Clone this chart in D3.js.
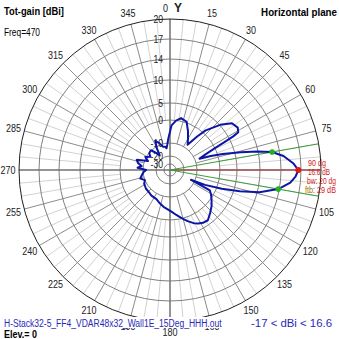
<!DOCTYPE html>
<html>
<head>
<meta charset="utf-8">
<script src="https://cdn.jsdelivr.net/npm/d3@7"></script>
<style>
  html, body { margin: 0; padding: 0; background: #fff; }
  svg { display: block; }
  text { font-family: "Liberation Sans", Arial, sans-serif; }
</style>
</head>
<body>
<svg id="chart" width="339" height="339"></svg>
<script>
// Horizontal-plane total gain (dBi) versus azimuth (degrees, clockwise from Y)
const azimuths = [2, 7, 12, 19, 25, 30, 35, 39, 42, 48, 53, 58, 61, 62, 63, 64, 66, 69,
  71, 73, 76, 78, 80, 83, 87, 90, 93, 96, 100, 104, 107, 110, 113, 115, 116, 117,
  121, 126, 131, 137, 143, 148, 152, 156, 161, 166, 172, 178, 184, 190, 197, 205,
  216, 223, 232, 242, 248, 254, 259, 265, 270, 274, 278, 282, 287, 292, 298, 304,
  309, 316, 320, 325, 329, 333, 338, 343, 348, 351, 354, 357];
const gains = [-2.3, -0.1, 0.9, 0.3, -3.2, -6.1, -8.4, -3.0, 1.0, 5.1, 7.3, 7.8, 7.4, 6.0, 3.0, 0.0, -4.3, -8.0,
  -3.0, 1.5, 6.3, 9.8, 12.6, 14.5, 15.9, 16.6, 16.2, 15.5, 13.8, 10.4, 6.3, 1.5, -5.2, -13.0, -7.8, -2.3,
  -0.9, 0.4, 1.5, 2.6, 3.8, 3.6, 3.1, 2.4, 1.2, -0.1, -2.0, -3.6, -4.7, -5.5, -6.6, -7.8,
  -8.0, -8.4, -8.5, -9.0, -10.0, -8.3, -9.2, -10.2, -12.4, -7.6, -9.3, -7.6, -6.6, -12.5, -9.6, -12.6,
  -10.2, -9.8, -13.2, -17.0, -10.8, -7.6, -9.0, -12.0, -12.5, -13.8, -11.0, -8.0];

// Gain rings (dBi) and their labels
const ringLevels = [20, 17, 14, 10, 5, 0, -10, -20, -30];
const ringLabels = ["20", "17", "14", "10", "5", "0", "-10", "-20", "-30"];

// Azimuth labels every 15 degrees
const azimuthTicks = [15, 30, 45, 60, 75, 105, 120, 135, 150, 165, 180, 195, 210, 225, 240, 255, 270, 285, 300, 315, 330, 345];

// Main lobe summary
const peakAzimuth = 90;
const peakGain = 16.6;
const beamwidth = 20;
const frontToBack = 29;
const minGain = -17;
const frequency = 470;
const elevation = 0;
const fileName = "H-Stack32-5_FF4_VDAR48x32_Wall1E_15Deg_HHH.out";

const svg = d3.select("#chart");
const cx = 170, cy = 170, R = 151;

// Compressed (log-like) radial gain scale
const r = d3.scaleLinear()
  .domain([-30, -20, -10, 0, 5, 10, 14, 17, 20])
  .range([6, 14, 27, 50, 67, 90, 111, 131, R])
  .clamp(true);

// Squeeze text horizontally (narrow UI look) by scaling about its anchor point
function squeeze(sel, k) {
  sel.each(function () {
    const t = d3.select(this);
    const x = +t.attr("x") || 0, y = +t.attr("y") || 0;
    t.attr("x", 0).attr("y", 0).attr("transform", `translate(${x},${y}) scale(${k},1)`);
  });
  return sel;
}
function fitWidth(sel, w) {
  const natural = sel.node().getComputedTextLength();
  return squeeze(sel, w / natural);
}

const g = svg.append("g").attr("transform", `translate(${cx},${cy})`);
const rad = d => d * Math.PI / 180;
const px = (az, rr) => rr * Math.sin(rad(az));
const py = (az, rr) => -rr * Math.cos(rad(az));

// Fine 5-degree spokes
const fine = d3.range(0, 360, 5).filter(a => a % 15 !== 0);
g.selectAll("line.fine").data(fine).join("line")
  .attr("x1", a => px(a, r(0))).attr("y1", a => py(a, r(0)))
  .attr("x2", a => px(a, R)).attr("y2", a => py(a, R))
  .attr("stroke", "#d2d2d2").attr("stroke-width", 1);

// 15-degree spokes
const coarse = d3.range(0, 360, 15).filter(a => a % 90 !== 0);
g.selectAll("line.coarse").data(coarse).join("line")
  .attr("x1", a => px(a, r(-10))).attr("y1", a => py(a, r(-10)))
  .attr("x2", a => px(a, R)).attr("y2", a => py(a, R))
  .attr("stroke", "#8c8c8c").attr("stroke-width", 1);

// Gain rings
g.selectAll("circle.ring").data(ringLevels.slice(1)).join("circle")
  .attr("r", d => r(d)).attr("fill", "none")
  .attr("stroke", "#808080").attr("stroke-width", 1);

// Main axes
g.append("line").attr("x1", 0).attr("y1", -R).attr("x2", 0).attr("y2", R)
  .attr("stroke", "#707070").attr("stroke-width", 1.5);
g.append("line").attr("x1", -R).attr("y1", 0).attr("x2", R).attr("y2", 0)
  .attr("stroke", "#707070").attr("stroke-width", 1.5);

// Outer ring
g.append("circle").attr("r", r(ringLevels[0])).attr("fill", "none")
  .attr("stroke", "#202020").attr("stroke-width", 1);

// Ring labels along the upper vertical axis
squeeze(g.selectAll("text.ring").data(ringLevels).join("text")
  .attr("x", -7).attr("y", d => -r(d))
  .attr("text-anchor", "end").attr("dominant-baseline", "central")
  .attr("font-size", 10.5).attr("fill", "#222")
  .text((d, i) => ringLabels[i]), 0.82);

// Azimuth labels
const labelR = 162;
squeeze(g.selectAll("text.az").data(azimuthTicks).join("text")
  .attr("x", a => px(a, labelR)).attr("y", a => py(a, labelR))
  .attr("text-anchor", "middle").attr("dominant-baseline", "central")
  .attr("font-size", 11).attr("fill", "#222")
  .text(a => a), 0.82);
squeeze(g.append("text").attr("x", -2).attr("y", -labelR)
  .attr("text-anchor", "end").attr("dominant-baseline", "central")
  .attr("font-size", 11).attr("fill", "#222").text("0"), 0.82);
g.append("text").attr("x", 4).attr("y", -labelR)
  .attr("text-anchor", "start").attr("dominant-baseline", "central")
  .attr("font-size", 12).attr("font-weight", "bold").attr("fill", "#222").text("Y");

// Beam direction and -3 dB directions
g.append("line").attr("x1", 0).attr("y1", 0)
  .attr("x2", px(peakAzimuth, R)).attr("y2", py(peakAzimuth, R))
  .attr("stroke", "#b84848").attr("stroke-width", 1.2);
[peakAzimuth - beamwidth / 2, peakAzimuth + beamwidth / 2].forEach(a => {
  g.append("line").attr("x1", 0).attr("y1", 0)
    .attr("x2", px(a, R)).attr("y2", py(a, R))
    .attr("stroke", "#3c9c3c").attr("stroke-width", 1);
});

// Pattern
const pts = azimuths.map((a, i) => [a, gains[i]]);
const pattern = d3.lineRadial()
  .angle(d => rad(d[0]))
  .radius(d => r(d[1]))
  .curve(d3.curveLinearClosed);
g.append("path").attr("d", pattern(pts))
  .attr("fill", "none").attr("stroke", "#0c16a4").attr("stroke-width", 2)
  .attr("stroke-linejoin", "round");

// Gain at an arbitrary azimuth, interpolated from the samples
function gainAt(az) {
  const i = d3.bisectLeft(azimuths, az);
  if (azimuths[i] === az) return gains[i];
  const a0 = azimuths[i - 1], a1 = azimuths[i];
  const t = (az - a0) / (a1 - a0);
  return gains[i - 1] + t * (gains[i] - gains[i - 1]);
}

// Markers: half-power points and peak
[peakAzimuth - beamwidth / 2, peakAzimuth + beamwidth / 2].forEach(a => {
  const rr = r(gainAt(a));
  g.append("circle").attr("cx", px(a, rr)).attr("cy", py(a, rr)).attr("r", 2.8)
    .attr("fill", "#22b022");
});
g.append("circle").attr("cx", px(peakAzimuth, r(peakGain))).attr("cy", py(peakAzimuth, r(peakGain)))
  .attr("r", 3).attr("fill", "#e01818");

// Lobe annotations
const ann = svg.append("g").attr("font-size", 9).attr("fill", "#d02020");
fitWidth(ann.append("text").attr("x", 308).attr("y", 163).attr("dominant-baseline", "central")
  .text(`${peakAzimuth} dg`), 18);
fitWidth(ann.append("text").attr("x", 308).attr("y", 172).attr("dominant-baseline", "central")
  .text(`${peakGain} dB`), 22);
fitWidth(ann.append("text").attr("x", 307).attr("y", 181.5).attr("dominant-baseline", "central")
  .text(`bw: ${beamwidth} dg`), 29);
const ftb = ann.append("text").attr("x", 305).attr("y", 190).attr("dominant-baseline", "central");
ftb.append("tspan").attr("fill", "#a07000").text("ftb");
ftb.append("tspan").text(`: ${frontToBack} dB`);
fitWidth(ftb, 31);

// Header
fitWidth(svg.append("text").attr("x", 4).attr("y", 11).attr("dominant-baseline", "central")
  .attr("font-size", 11).attr("font-weight", "bold").attr("fill", "#000").text("Tot-gain [dBi]"), 60);
fitWidth(svg.append("text").attr("x", 4).attr("y", 32).attr("dominant-baseline", "central")
  .attr("font-size", 11).attr("fill", "#000").text(`Freq=${frequency}`), 36);
fitWidth(svg.append("text").attr("x", 337).attr("y", 12).attr("text-anchor", "end").attr("dominant-baseline", "central")
  .attr("font-size", 11).attr("font-weight", "bold").attr("fill", "#000").text("Horizontal plane"), 76);

// Footer
svg.append("rect")
  .attr("x", 3).attr("y", 317).attr("width", 220).attr("height", 11).attr("fill", "#fff");
fitWidth(svg.append("text").attr("x", 4).attr("y", 323).attr("dominant-baseline", "central")
  .attr("font-size", 11).attr("fill", "#2828b8").text(fileName), 218);
fitWidth(svg.append("text").attr("x", 332).attr("y", 323).attr("text-anchor", "end").attr("dominant-baseline", "central")
  .attr("font-size", 11).attr("fill", "#2828b8").text(`${minGain} < dBi < ${peakGain}`), 81);
fitWidth(svg.append("text").attr("x", 4).attr("y", 334).attr("dominant-baseline", "central")
  .attr("font-size", 11).attr("font-weight", "bold").attr("fill", "#000").text(`Elev.= ${elevation}`), 33);
</script>
</body>
</html>
